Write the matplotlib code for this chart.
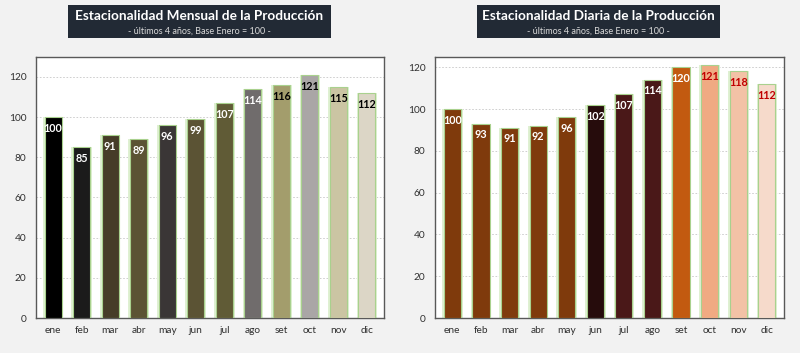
import matplotlib.pyplot as plt
from matplotlib.patches import Rectangle
import numpy as np

plt.rcParams['font.family'] = ['Lato', 'DejaVu Sans']

# ---------------------------------------------------------------------
# Data
# ---------------------------------------------------------------------
meses = ["ene", "feb", "mar", "abr", "may", "jun",
         "jul", "ago", "set", "oct", "nov", "dic"]

mensual = [100, 85, 91, 89, 96, 99, 107, 114, 116, 121, 115, 112]
diaria = [100, 93, 91, 92, 96, 102, 107, 114, 120, 121, 118, 112]

colores_mensual = ["#000000", "#1b1b1b", "#463c28", "#5b5334", "#3a3636", "#5b5334",
                   "#605b36", "#706c6c", "#a39d6c", "#aaa6a6", "#cbc5a3", "#dcd6c6"]
etiq_mensual = ["white"] * 8 + ["black"] * 4

colores_diaria = ["#7f3a0c", "#7f3a0c", "#7f3a0c", "#7f3a0c", "#7f3a0c", "#260c0c",
                  "#4a1818", "#4a1818", "#c25a10", "#f0aa82", "#f3c2a6", "#f6dacb"]
etiq_diaria = ["white"] * 9 + ["#c00000"] * 3

BG = "#f2f2f2"
BOX = "#222a35"


def draw_panel(fig, rect, values, colors, label_colors, ymax):
    ax = fig.add_axes(rect)
    ax.set_facecolor("white")
    x = np.arange(len(values))

    # soft green glow behind each bar
    ax.bar(x, values, width=0.72, color="#dff0d2", zorder=2)
    ax.bar(x, values, width=0.6, color=colors, edgecolor="#a9d18e",
           linewidth=0.8, zorder=3)

    for xi, v, c in zip(x, values, label_colors):
        ax.annotate(str(v), (xi, v), xytext=(0, -8), textcoords="offset points",
                    ha="center", va="center", fontsize=7.8, fontweight="bold",
                    color=c, zorder=4)

    ax.set_xlim(-0.6, len(values) - 0.4)
    ax.set_ylim(0, ymax)
    ax.set_yticks(range(0, 121, 20))
    ax.yaxis.grid(True, color="#c8c8c8", linestyle=(0, (2, 2)), linewidth=0.6)
    ax.set_axisbelow(True)
    ax.set_xticks(x)
    ax.set_xticklabels(meses)
    ax.tick_params(axis="both", length=0, labelsize=7.3, colors="#303030")
    ax.tick_params(axis="y", pad=7)
    ax.tick_params(axis="x", pad=6)
    for s in ax.spines.values():
        s.set_color("#595959")
        s.set_linewidth(1.0)
    return ax


fig = plt.figure(figsize=(8, 3.53), dpi=100)
fig.patch.set_facecolor(BG)

draw_panel(fig, [0.045, 0.099, 0.435, 0.74], mensual, colores_mensual, etiq_mensual, 130)
draw_panel(fig, [0.544, 0.099, 0.436, 0.74], diaria, colores_diaria, etiq_diaria, 125)

# title boxes
titulos = [("Estacionalidad Mensual de la Producción", 68, 331),
           ("Estacionalidad Diaria de la Producción", 477, 720)]
for texto, x0, x1 in titulos:
    fig.patches.append(Rectangle((x0 / 800, 1 - 38 / 353), (x1 - x0) / 800, 33 / 353,
                                 transform=fig.transFigure, facecolor=BOX,
                                 edgecolor="none", zorder=1))
    cx = (x0 + x1) / 2 / 800
    fig.text(cx, 1 - 16 / 353, texto, ha="center", va="center",
             fontsize=9.8, fontweight="bold", color="white")
    fig.text(cx, 1 - 31 / 353, "- últimos 4 años, Base Enero = 100 -",
             ha="center", va="center", fontsize=6.5, color="#d9d9d9")

fig.savefig("out.png", dpi=100, facecolor=BG)
